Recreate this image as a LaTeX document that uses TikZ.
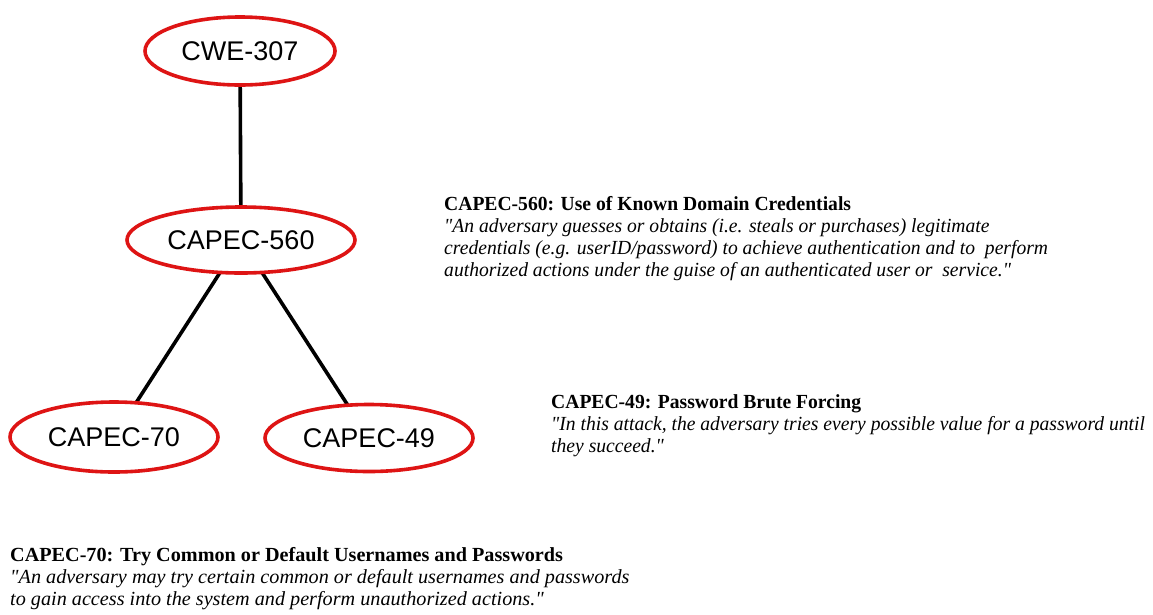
\documentclass[tikz,border=0pt]{standalone}
\usepackage{fontspec}
\setmainfont{Liberation Serif}
\newfontfamily\labelfont{Liberation Sans}
\newfontfamily\descfont[FakeStretch=0.98]{Liberation Serif}
\newfontfamily\descwidefont[FakeStretch=1.01]{Liberation Serif}
\usetikzlibrary{shapes.geometric}
\definecolor{ovalred}{RGB}{222,20,20}
\begin{document}
\begin{tikzpicture}[x=1pt,y=-1pt,
  oval/.style={ellipse, draw=ovalred, line width=3.6pt, fill=white, inner sep=0pt,
    font=\labelfont\fontsize{27}{30}\selectfont},
  link/.style={line width=3.6pt, black},
  desc/.style={anchor=base west, align=left, inner sep=0pt,
    font=\descfont\fontsize{20}{22}\selectfont}]
\useasboundingbox (0,0) rectangle (1153,614);
\fill[white] (0,0) rectangle (1153,614);

% links of the attack pattern tree, drawn first so the ovals cover their ends
\coordinate (pcwe) at (240,51);
\coordinate (p560) at (241,240);
\coordinate (p70) at (114,437);
\coordinate (p49) at (369,438);
\draw[link] (pcwe) -- (p560);
\draw[link] (p560) -- (p70);
\draw[link] (p560) -- (p49);

% attack pattern tree
\node[oval, minimum width=190pt, minimum height=68pt] (cwe) at (pcwe) {CWE-307};
\node[oval, minimum width=228pt, minimum height=66pt] (c560) at (p560) {CAPEC-560};
\node[oval, minimum width=208pt, minimum height=70pt] (c70) at (p70) {CAPEC-70};
\node[oval, minimum width=208pt, minimum height=67pt] (c49) at (p49) {CAPEC-49};

% descriptions (anchored at the baseline of their last line)
\node[desc] (d560) at (444,276) {\textbf{CAPEC-560: Use of Known Domain Credentials}\\
\textit{"An adversary guesses or obtains (i.e. steals or purchases) legitimate}\\
\textit{credentials (e.g. userID/password) to achieve authentication and to\ \ perform}\\
\textit{authorized actions under the guise of an authenticated user or\ \ service."}};

\node[desc] (d49) at (551,452) {\textbf{CAPEC-49: Password Brute Forcing}\\
\textit{"In this attack, the adversary tries every possible value for a password until}\\
\textit{they succeed."}};

\node[desc, font=\descwidefont\fontsize{20}{22}\selectfont] (d70) at (10,605) {\textbf{CAPEC-70: Try Common or Default Usernames and Passwords}\\
\textit{"An adversary may try certain common or default usernames and passwords}\\
\textit{to gain access into the system and perform unauthorized actions."}};
\end{tikzpicture}
\end{document}
